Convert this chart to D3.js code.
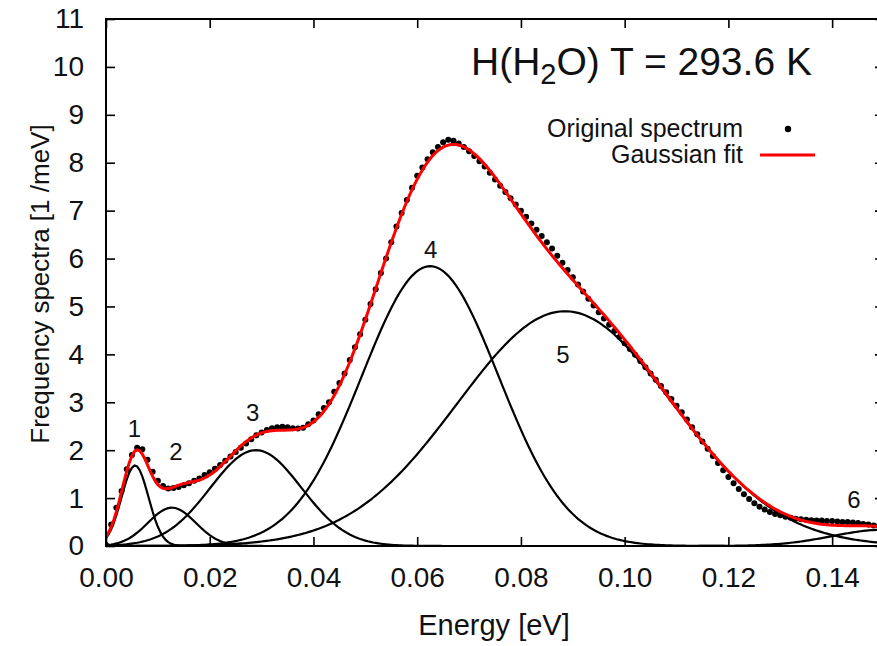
<!DOCTYPE html>
<html><head><meta charset="utf-8">
<script src="https://cdn.jsdelivr.net/npm/d3@7"></script>
<style>
body{margin:0;background:#fff}
svg{display:block;background:#fff}
text{font-family:"Liberation Sans",Arial,Helvetica,sans-serif;fill:#111}
</style>
</head><body>
<svg id="chart" width="877" height="646"></svg>
<script>
// ---- data ----
const energyStart = 0.000;
const energyStep = 0.001; // eV between spectrum samples
const spectrum = [
  0.02,0.45,0.80,1.15,1.60,1.90,2.05,2.02,1.80,1.55,
  1.36,1.25,1.20,1.21,1.23,1.27,1.31,1.36,1.41,1.48,
  1.54,1.61,1.69,1.78,1.87,1.96,2.05,2.14,2.23,2.31,
  2.37,2.42,2.46,2.48,2.49,2.48,2.46,2.45,2.47,2.54,
  2.62,2.75,2.88,3.00,3.22,3.40,3.60,3.88,4.15,4.42,
  4.72,5.05,5.36,5.70,6.00,6.34,6.67,6.95,7.22,7.48,
  7.73,7.90,8.07,8.22,8.33,8.43,8.48,8.46,8.40,8.33,
  8.24,8.14,8.03,7.92,7.79,7.65,7.52,7.39,7.26,7.13,
  7.00,6.87,6.73,6.60,6.47,6.34,6.21,6.06,5.91,5.76,
  5.61,5.46,5.31,5.16,5.02,4.88,4.75,4.62,4.49,4.36,
  4.23,4.11,3.99,3.86,3.73,3.60,3.47,3.34,3.21,3.07,
  2.93,2.79,2.64,2.48,2.33,2.18,2.03,1.88,1.73,1.58,
  1.44,1.31,1.19,1.08,0.98,0.89,0.82,0.76,0.71,0.67,
  0.64,0.61,0.59,0.57,0.56,0.55,0.54,0.53,0.53,0.52,
  0.52,0.51,0.50,0.50,0.49,0.48,0.46,0.45,0.43,0.42
];
// Gaussian fit components (center eV, amplitude 1/meV, sigma eV)
const peakNames      = ["1","2","3","4","5","6"];
const peakCenters    = [0.0056, 0.0127, 0.0289, 0.0625, 0.0885, 0.1500];
const peakAmplitudes = [1.68,   0.80,   2.00,   5.84,   4.90,   0.34];
const peakWidths     = [0.0026, 0.0046, 0.0088, 0.0132, 0.0208, 0.0100];
// peak label anchors (data units)
const labelEnergy = [0.0055, 0.0135, 0.0283, 0.0626, 0.0881, 0.1442];
const labelValue  = [2.28,   1.80,   2.60,   6.01,   3.82,   0.79];

const xTickValues = [0.00,0.02,0.04,0.06,0.08,0.10,0.12,0.14];
const yTickValues = [0,1,2,3,4,5,6,7,8,9,10,11];
const xDomain = [0, 0.15];
const yDomain = [0, 11];
const titleMain = "H(H", titleSub = "2", titleRest = "O) T = 293.6 K";
const xTitle = "Energy [eV]";
const yTitle = "Frequency spectra [1 /meV]";
const legendNames = ["Original spectrum","Gaussian fit"];

// ---- drawing ----
const svg = d3.select("#chart");
const L = 106, R = 884, T = 19, B = 546;
const x = d3.scaleLinear().domain(xDomain).range([L, R]);
const y = d3.scaleLinear().domain(yDomain).range([B, T]);

const gauss = (e, i) => peakAmplitudes[i] * Math.exp(-0.5 * Math.pow((e - peakCenters[i]) / peakWidths[i], 2));
const grid = d3.range(0, 0.15 + 1e-9, 0.0005);

svg.append("defs").append("clipPath").attr("id","clip")
  .append("rect").attr("x", L).attr("y", T).attr("width", R - L).attr("height", B - T);

const plot = svg.append("g").attr("clip-path","url(#clip)");
const line = d3.line().x(d => x(d[0])).y(d => y(d[1])).curve(d3.curveLinear);

// components
peakNames.forEach((n, i) => {
  plot.append("path")
    .datum(grid.map(e => [e, gauss(e, i)]))
    .attr("d", line).attr("fill","none").attr("stroke","#000").attr("stroke-width",2.2);
});

// spectrum dots
plot.append("g").selectAll("circle").data(spectrum).join("circle")
  .attr("cx", (d, i) => x(energyStart + i * energyStep))
  .attr("cy", d => y(d))
  .attr("r", 3).attr("fill","#000");

// total fit
plot.append("path")
  .datum(grid.map(e => [e, d3.sum(peakNames, (n, i) => gauss(e, i))]))
  .attr("d", line).attr("fill","none").attr("stroke","#ff0000").attr("stroke-width",3);

// peak labels
svg.append("g").selectAll("text").data(peakNames).join("text")
  .attr("x", (d, i) => x(labelEnergy[i]))
  .attr("y", (d, i) => y(labelValue[i]))
  .attr("text-anchor","middle").attr("font-size", 24).text(d => d);

// axes
const fmt = d3.format(".2f");
const xAxis = svg.append("g").attr("transform", `translate(0,${B})`)
  .call(d3.axisBottom(x).tickValues(xTickValues).tickFormat(fmt).tickSize(-9).tickPadding(21));
const yAxis = svg.append("g").attr("transform", `translate(${L},0)`)
  .call(d3.axisLeft(y).tickValues(yTickValues).tickFormat(d3.format("d")).tickSize(-9).tickPadding(22));
const xTop = svg.append("g").attr("transform", `translate(0,${T})`)
  .call(d3.axisTop(x).tickValues(xTickValues).tickFormat("").tickSize(-9));
const yRight = svg.append("g").attr("transform", `translate(${R},0)`)
  .call(d3.axisRight(y).tickValues(yTickValues).tickFormat("").tickSize(-9));
[xAxis, yAxis, xTop, yRight].forEach(g => {
  g.select(".domain").remove();
  g.selectAll(".tick line").attr("stroke","#000").attr("stroke-width",1.6);
  g.selectAll("text").attr("font-size", 28).attr("fill","#111")
    .attr("font-family",'"Liberation Sans",Arial,Helvetica,sans-serif');
});

// frame
svg.append("rect").attr("x", L).attr("y", T).attr("width", R - L).attr("height", B - T)
  .attr("fill","none").attr("stroke","#000").attr("stroke-width",2);

// axis titles
svg.append("text").attr("x", (L + R) / 2 - 1).attr("y", 635)
  .attr("text-anchor","middle").attr("font-size", 29).text(xTitle);
svg.append("text").attr("transform", "translate(49,284) rotate(-90)")
  .attr("text-anchor","middle").attr("font-size", 26).text(yTitle);

// title
const t = svg.append("text").attr("x", 471).attr("y", 75).attr("font-size", 39);
t.append("tspan").text(titleMain);
t.append("tspan").attr("dy", 9).attr("font-size", 29).text(titleSub);
t.append("tspan").attr("dy", -9).text(titleRest);

// legend
const lg = svg.append("g");
lg.append("text").attr("x", 743).attr("y", 137).attr("text-anchor","end").attr("font-size", 25).text(legendNames[0]);
lg.append("circle").attr("cx", 788).attr("cy", 129).attr("r", 3.2).attr("fill","#000");
lg.append("text").attr("x", 743).attr("y", 163).attr("text-anchor","end").attr("font-size", 25).text(legendNames[1]);
lg.append("line").attr("x1", 760).attr("x2", 815).attr("y1", 155).attr("y2", 155)
  .attr("stroke","#ff0000").attr("stroke-width",3);
</script>
</body></html>
